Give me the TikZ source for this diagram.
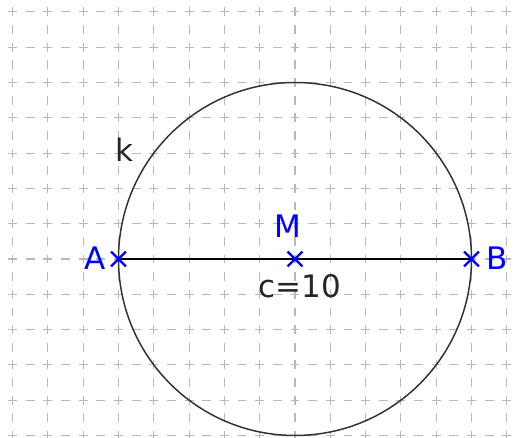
\documentclass[tikz,border=0pt]{standalone}
\usepackage{fontspec}
\setmainfont{DejaVu Sans}
\usetikzlibrary{shapes.misc}

\begin{document}
\begin{tikzpicture}[
    gridline/.style={gray!55, line width=0.9pt, dash pattern=on 0.25cm off 0.25cm, dash phase=0.125cm},
    ptmark/.style={cross out, draw=blue, line width=1.8pt, inner sep=0pt, minimum size=0.36cm},
    ptlabel/.style={text=blue, inner sep=0pt, font=\fontsize{25}{28}\selectfont},
    objlabel/.style={text=black!85, inner sep=0pt, font=\fontsize{25}{28}\selectfont}
  ]
        % Frame of the picture
        \useasboundingbox (-8.357,-5.043) rectangle (6.261,7.337);
        \clip (-8.357,-5.043) rectangle (6.261,7.337);

        % Dashed grid
        \foreach \x in {-8,...,6}
          \draw[gridline] (\x,-5.5) -- (\x,7.5);
        \foreach \y in {-5,...,7}
          \draw[gridline] (-8.5,\y) -- (6.5,\y);

        % Points
        \coordinate (M) at (0,0);
        \coordinate (A) at (-5,0);
        \coordinate (B) at (5,0);

        % Circle k and diameter c
        \draw[black!80, line width=1.2pt] (M) circle (5);
        \draw[black, line width=1.1pt] (A) -- (B);

        % Point marks
        \node[ptmark] (Amark) at (A) {};
        \node[ptmark] (Bmark) at (B) {};
        \node[ptmark] (Mmark) at (M) {};

        % Labels
        \node[ptlabel] (Alabel) at (-5.67,0.03) {A};
        \node[ptlabel] (Blabel) at (5.72,0.03) {B};
        \node[ptlabel] (Mlabel) at (-0.2,0.93) {M};
        \node[objlabel] (clabel) at (0.14,-0.76) {c=10};
        \node[objlabel] (klabel) at (-4.84,3.09) {k};
\end{tikzpicture}
\end{document}
